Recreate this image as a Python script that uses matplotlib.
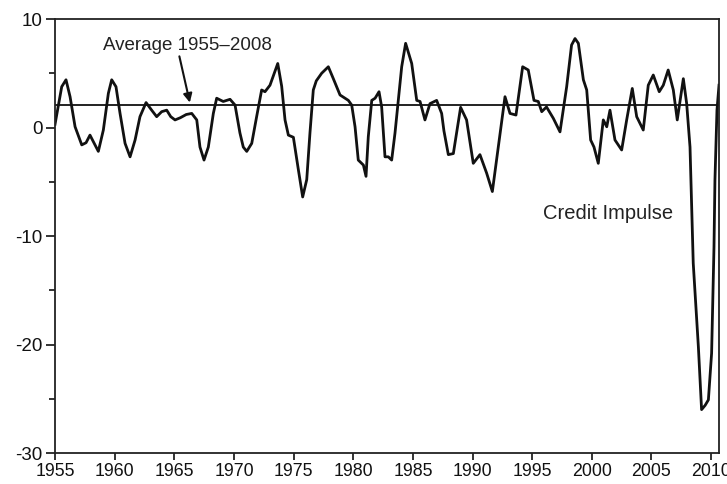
import matplotlib
matplotlib.use("Agg")
import matplotlib.pyplot as plt
from matplotlib.ticker import MultipleLocator

plt.rcParams['font.family'] = ['Liberation Sans', 'DejaVu Sans']
plt.rcParams['axes.unicode_minus'] = False

# Credit impulse (year, value)
years = [1955.0, 1955.56, 1955.92, 1956.26, 1956.68, 1957.24, 1957.6, 1957.93, 1958.35, 1958.63,
         1959.05, 1959.47, 1959.75, 1960.11, 1960.45, 1960.87, 1961.29, 1961.71, 1962.12, 1962.63,
         1963.1, 1963.52, 1963.94, 1964.36, 1964.7, 1965.06, 1965.5, 1966.0, 1966.46, 1966.88,
         1967.15, 1967.49, 1967.85, 1968.27, 1968.55, 1969.1, 1969.67, 1970.09, 1970.5, 1970.78,
         1971.07, 1971.49, 1971.9, 1972.32, 1972.6, 1973.02, 1973.67, 1974.0, 1974.28, 1974.56,
         1974.98, 1975.4, 1975.76, 1976.1, 1976.37, 1976.65, 1976.9, 1977.35, 1977.91, 1978.33,
         1978.89, 1979.59, 1979.87, 1980.15, 1980.42, 1980.85, 1981.07, 1981.26, 1981.55, 1981.83,
         1982.16, 1982.38, 1982.66, 1982.94, 1983.22, 1983.5, 1983.78, 1984.06, 1984.39, 1984.9,
         1985.32, 1985.6, 1986.01, 1986.43, 1986.99, 1987.41, 1987.6, 1987.97, 1988.39, 1989.0,
         1989.5, 1990.06, 1990.62, 1991.18, 1991.66, 1992.16, 1992.72, 1993.14, 1993.64, 1994.2,
         1994.67, 1995.15, 1995.51, 1995.8, 1996.2, 1996.77, 1997.33, 1997.89, 1998.3, 1998.59,
         1998.87, 1999.29, 1999.57, 1999.9, 2000.18, 2000.54, 2000.96, 2001.25, 2001.52, 2001.94,
         2002.5, 2002.92, 2003.39, 2003.76, 2004.31, 2004.73, 2005.15, 2005.65, 2005.99, 2006.4,
         2006.83, 2007.16, 2007.67, 2007.95, 2008.23, 2008.5, 2008.93, 2009.2, 2009.5, 2009.77,
         2010.04, 2010.24, 2010.32, 2010.49, 2010.66]
impulse = [0.3, 3.76, 4.4, 2.84, 0.07, -1.6, -1.4, -0.7, -1.6, -2.2,
           -0.23, 3.15, 4.4, 3.76, 1.3, -1.46, -2.7, -1.15, 1.0, 2.3,
           1.6, 1.0, 1.46, 1.6, 1.0, 0.7, 0.9, 1.2, 1.3, 0.7,
           -1.8, -3.0, -1.8, 1.3, 2.7, 2.4, 2.6, 2.07, -0.5, -1.8,
           -2.2, -1.46, 1.0, 3.46, 3.3, 3.9, 5.9, 3.8, 0.7, -0.7,
           -0.9, -3.9, -6.4, -4.8, -0.5, 3.46, 4.3, 5.0, 5.6, 4.5,
           3.0, 2.5, 2.07, 0.07, -3.0, -3.46, -4.5, -0.85, 2.5, 2.7,
           3.3, 1.9, -2.7, -2.7, -3.0, -0.5, 2.5, 5.6, 7.76, 5.9,
           2.5, 2.4, 0.7, 2.2, 2.5, 1.3, -0.3, -2.5, -2.4, 1.86,
           0.7, -3.3, -2.5, -4.2, -5.9, -1.8, 2.84, 1.3, 1.15, 5.6,
           5.3, 2.5, 2.4, 1.46, 1.9, 0.85, -0.4, 3.76, 7.6, 8.2,
           7.76, 4.4, 3.46, -1.15, -1.8, -3.3, 0.7, 0.07, 1.6, -1.15,
           -2.07, 0.7, 3.6, 1.0, -0.23, 3.9, 4.84, 3.3, 3.9, 5.3,
           3.46, 0.7, 4.5, 2.2, -1.8, -12.5, -20.2, -26.0, -25.6, -25.1,
           -20.8, -11.0, -4.85, 1.6, 3.9]

average = 2.1
x_ticks = [1955, 1960, 1965, 1970, 1975, 1980, 1985, 1990, 1995, 2000, 2005, 2010]
y_ticks = [10, 0, -10, -20, -30]

fig = plt.figure(figsize=(7.27, 4.84), dpi=100)
ax = fig.add_axes([0.0757, 0.064, 0.9133, 0.8967])

ax.plot(years, impulse, color='#111111', lw=2.0, solid_joinstyle='round')
ax.axhline(average, color='#111111', lw=1.3)

ax.set_xlim(1955, 2010.66)
ax.set_ylim(-30, 10)
ax.set_xticks(x_ticks)
ax.set_yticks(y_ticks)
ax.yaxis.set_minor_locator(MultipleLocator(5))
ax.tick_params(axis='both', which='both', direction='out', width=1.2,
               colors='#111111')
ax.tick_params(axis='x', which='major', length=5, labelsize=12.8, pad=2)
ax.tick_params(axis='y', which='major', length=6.5, labelsize=13.5, pad=2.5)
ax.tick_params(axis='y', which='minor', length=4.5)
for s in ax.spines.values():
    s.set_linewidth(1.3)
    s.set_color('#222222')

ax.annotate('Average 1955–2008', xy=(1966.3, 2.3), xytext=(1959.0, 7.6),
            fontsize=13.5, color='#222222', va='center', ha='left',
            arrowprops=dict(arrowstyle='-|>', color='#111111', lw=1.5,
                            mutation_scale=13, shrinkA=0, shrinkB=0,
                            relpos=(0.45, 0.0)))
ax.text(1995.9, -7.9, 'Credit Impulse', fontsize=14.5, color='#222222',
        va='center', ha='left')

fig.savefig('out.png', dpi=100)
